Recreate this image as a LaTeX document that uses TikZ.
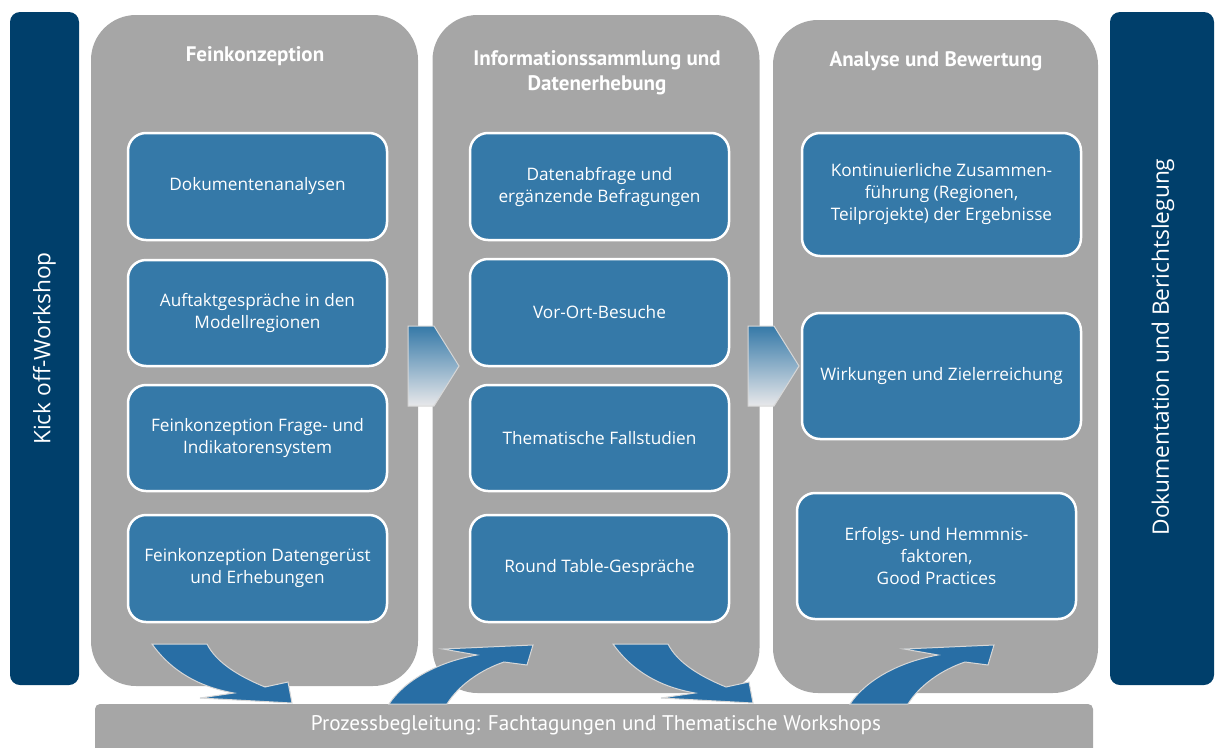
\documentclass[tikz,border=0pt]{standalone}
\usepackage{fontspec}
\setmainfont{Open Sans}
\newfontfamily\titlefont{PT Sans}
\definecolor{darkblue}{RGB}{0,63,107}
\definecolor{colgray}{RGB}{166,166,166}
\definecolor{boxblue}{RGB}{53,121,168}
\definecolor{arrblue}{RGB}{40,110,165}
\definecolor{arrline}{RGB}{215,215,215}
\definecolor{chevlight}{RGB}{232,232,234}
\tikzset{
  sidebar/.style={fill=darkblue, draw=none, rounded corners=10pt, inner sep=0pt},
  column/.style={fill=colgray, draw=none, rounded corners=45pt, inner sep=0pt},
  bluebox/.style={fill=boxblue, draw=white, line width=2.5pt, rounded corners=18pt,
    align=center, text=white, font=\fontsize{17.2}{22}\selectfont, inner sep=0pt},
  coltitle/.style={text=white, font=\titlefont\bfseries\fontsize{21}{25}\selectfont, align=center},
  sidetext/.style={text=white, font=\fontsize{22.7}{26}\selectfont, rotate=90},
  bentarrow/.style={fill=arrblue, draw=arrline, line width=1pt, line join=miter},
  chevron/.style={top color=boxblue, bottom color=chevlight, draw=arrline, line width=1pt}
}
\begin{document}
\begin{tikzpicture}[x=1pt,y=-1pt]
\useasboundingbox (0,0) rectangle (1215,747);
% side bars
\node[sidebar, minimum width=69pt, minimum height=673pt] (kick) at (44.5,348.5) {};
\node[sidetext] (kicktxt) at (kick.center) {Kick off-Workshop};
\node[sidebar, minimum width=104pt, minimum height=673pt] (doku) at (1162,348.5) {};
\node[sidetext] (dokutxt) at (1163,347) {Dokumentation und Berichtslegung};
% columns
\node[column, minimum width=327pt, minimum height=671pt] (col1) at (254.5,350.5) {};
\node[column, minimum width=327pt, minimum height=678pt] (col2) at (596,354) {};
\node[column, minimum width=325pt, minimum height=673pt] (col3) at (935.5,356.5) {};
% titles
\node[coltitle] (t1) at (255,56) {Feinkonzeption};
\node[coltitle] (t2) at (597,73) {Informationssammlung und\\Datenerhebung};
\node[coltitle] (t3) at (936,61) {Analyse und Bewertung};
% column 1 boxes
\node[bluebox, minimum width=259pt, minimum height=107pt] (a1) at (257.5,186.5) {Dokumentenanalysen};
\node[bluebox, minimum width=259pt, minimum height=106pt] (a2) at (257.5,313) {Auftaktgespräche in den\\Modellregionen};
\node[bluebox, minimum width=259pt, minimum height=106pt] (a3) at (257.5,438) {Feinkonzeption Frage- und\\Indikatorensystem};
\node[bluebox, minimum width=259pt, minimum height=107pt] (a4) at (257.5,568.5) {Feinkonzeption Datengerüst\\und Erhebungen};
% column 2 boxes
\node[bluebox, minimum width=259pt, minimum height=107pt] (b1) at (599.5,186.5) {Datenabfrage und\\ergänzende Befragungen};
\node[bluebox, minimum width=259pt, minimum height=107pt] (b2) at (599.5,312.5) {Vor-Ort-Besuche};
\node[bluebox, minimum width=259pt, minimum height=106pt] (b3) at (599.5,438) {Thematische Fallstudien};
\node[bluebox, minimum width=259pt, minimum height=107pt] (b4) at (599.5,568.5) {Round Table-Gespräche};
% column 3 boxes
\node[bluebox, minimum width=279pt, minimum height=123pt] (c1) at (941.5,194.5) {Kontinuierliche Zusammen-\\führung (Regionen,\\Teilprojekte) der Ergebnisse};
\node[bluebox, minimum width=279pt, minimum height=126pt] (c2) at (941.5,376) {Wirkungen und Zielerreichung};
\node[bluebox, minimum width=279pt, minimum height=126pt] (c3) at (936.5,556) {Erfolgs- und Hemmnis-\\faktoren,\\Good Practices};
% chevrons
\shade[chevron] (408,326) -- (434,326) -- (459,366) -- (434,406) -- (408,406) -- cycle;
\shade[chevron] (748,326) -- (774,326) -- (799,366) -- (774,406) -- (748,406) -- cycle;
% bottom bar
\node[fill=colgray, rounded corners=5pt, minimum width=998pt, minimum height=50pt, inner sep=0pt] (bar) at (594,729) {};
\node[text=white, font=\titlefont\fontsize{21.2}{24}\selectfont] (bartxt) at (596,725) {Prozessbegleitung: Fachtagungen und Thematische Workshops};
% bent arrows
\foreach \s in {0,461}{
\begin{scope}[xshift=\s pt]
\filldraw[bentarrow] (152,644) .. controls (172,672) and (200,687) .. (234,693)
  -- (200,698) -- (292,703) -- (288,682) -- (265,687)
  .. controls (238,676) and (216,662) .. (207,644) -- cycle;
\filldraw[bentarrow] (389,704) .. controls (405,680) and (438,662) .. (477,655)
  -- (443,649) -- (533,645) -- (527,665) -- (504,662)
  .. controls (480,670) and (458,686) .. (447,704) -- cycle;
\end{scope}
}
\end{tikzpicture}
\end{document}
